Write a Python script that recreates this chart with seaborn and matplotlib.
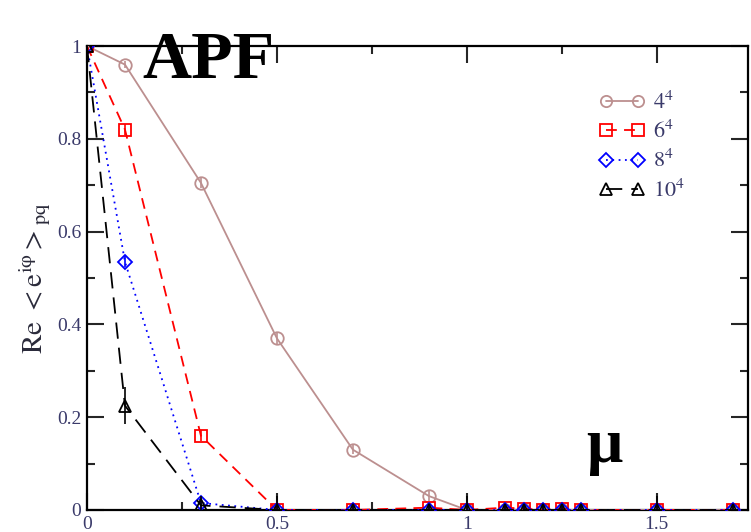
import numpy as np
import pandas as pd
import matplotlib
matplotlib.use("Agg")
import matplotlib.pyplot as plt
import seaborn as sns
from matplotlib.ticker import MultipleLocator, FuncFormatter

sns.set_theme(style="ticks")
plt.rcParams['font.family'] = ['Liberation Serif', 'DejaVu Serif']
plt.rcParams['mathtext.fontset'] = 'stix'

mu = [0.0, 0.1, 0.3, 0.5, 0.7, 0.9, 1.0, 1.1, 1.15, 1.2, 1.25, 1.3, 1.5, 1.7]
L4 = [1.0, 0.96, 0.705, 0.37, 0.13, 0.03, 0.0, 0.0, 0.0, 0.0, 0.0, 0.0, 0.0, 0.0]
L6 = [1.0, 0.82, 0.16, 0.0, 0.0, 0.005, 0.0, 0.005, 0.003, 0.0, 0.003, 0.0, 0.0, 0.0]
L8 = [1.0, 0.535, 0.015, 0.0, 0.0, 0.0, 0.0, 0.0, 0.0, 0.0, 0.0, 0.0, 0.0, 0.0]
L10 = [1.0, 0.225, 0.01, 0.0, 0.0, 0.0, 0.0, 0.0, 0.0, 0.0, 0.0, 0.0, 0.0, 0.0]
E4 = [0.0, 0.008, 0.01, 0.012, 0.01, 0.01, 0.01, 0.005, 0.005, 0.005, 0.005, 0.005, 0.005, 0.005]
E6 = [0.0, 0.012, 0.012, 0.01, 0.01, 0.01, 0.01, 0.008, 0.008, 0.008, 0.008, 0.008, 0.008, 0.008]
E8 = [0.0, 0.012, 0.015, 0.01, 0.01, 0.01, 0.01, 0.008, 0.008, 0.008, 0.008, 0.008, 0.008, 0.008]
E10 = [0.0, 0.04, 0.02, 0.03, 0.01, 0.01, 0.03, 0.01, 0.01, 0.01, 0.01, 0.01, 0.03, 0.01]
labels = ["$4^4$", "$6^4$", "$8^4$", "$10^4$"]

series = [
    (L4, E4, labels[0], "#bc8f8f", "o", "-"),
    (L6, E6, labels[1], "#ff0000", "s", (0, (6, 4))),
    (L8, E8, labels[2], "#0000ff", "D", (0, (1, 2.5))),
    (L10, E10, labels[3], "#000000", "^", (0, (9, 5))),
]

fig = plt.figure(figsize=(7.51, 5.32), dpi=100)
ax = fig.add_axes([0.1158, 0.0414, 0.8802, 0.8721])

for vals, errs, lab, col, mk, ls in series:
    df = pd.DataFrame({"mu": mu, "val": vals})
    sns.lineplot(data=df, x="mu", y="val", ax=ax, color=col, linestyle=ls,
                 marker=mk, markersize=9 if mk != "D" else 7.5, markerfacecolor="none",
                 markeredgecolor=col, markeredgewidth=1.3, linewidth=1.3,
                 label=lab, zorder=3)
    ax.errorbar(mu, vals, yerr=errs, fmt="none", ecolor=col, elinewidth=1.2,
                capsize=0, zorder=3)

ax.set_xlim(0, 1.74)
ax.set_ylim(0, 1.0)
ax.xaxis.set_major_locator(MultipleLocator(0.5))
ax.xaxis.set_minor_locator(MultipleLocator(0.25))
ax.yaxis.set_major_locator(MultipleLocator(0.2))
ax.yaxis.set_minor_locator(MultipleLocator(0.1))
ax.xaxis.set_major_formatter(FuncFormatter(lambda v, p: f"{v:g}"))
ax.yaxis.set_major_formatter(FuncFormatter(lambda v, p: f"{v:g}"))
ax.tick_params(which="major", direction="in", length=12, width=1.5, labelsize=14,
               top=True, right=True, labelcolor="#3a3a6a", pad=4)
ax.tick_params(which="minor", direction="in", length=6, width=1.5,
               top=True, right=True)
for s in ax.spines.values():
    s.set_linewidth(1.6)
    s.set_color("black")

ax.set_xlabel("")
ax.set_ylabel(r"$\mathrm{Re\ <e^{i\varphi}>_{pq}}$", fontsize=21, labelpad=3,
              color="#2a2a3a")

leg = ax.legend(loc="upper right", bbox_to_anchor=(0.935, 0.945), frameon=False,
                fontsize=16, numpoints=2, handlelength=2.0, labelspacing=0.3,
                handletextpad=0.4, markerscale=0.9)
for t in leg.get_texts():
    t.set_color("#3a3a6a")

fig.text(0.19, 0.885, "APF", fontsize=49, fontweight="bold", color="black",
         family="Liberation Serif", ha="left", va="center")
fig.text(0.78, 0.16, "μ", fontsize=46, fontweight="bold", color="black",
         family="Liberation Serif", ha="left", va="center")

fig.savefig("out.png", dpi=100)
